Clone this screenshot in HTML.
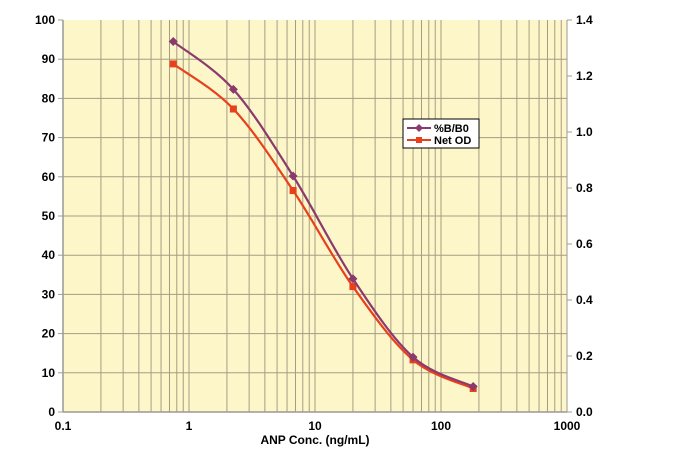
<!DOCTYPE html>
<html><head><meta charset="utf-8"><style>
html,body{margin:0;padding:0;background:#fff;}
svg{display:block;font-family:"Liberation Sans",sans-serif;font-weight:bold;}
</style></head><body>
<svg id="s" width="684" height="468" viewBox="0 0 684 468" xmlns="http://www.w3.org/2000/svg">
<rect x="63" y="20" width="504" height="392" fill="#fdf6c9"/>
<g id="grid" stroke="#a59d83" stroke-width="1"></g>
<g id="lab" font-size="12" fill="#000"></g>
<line x1="63" y1="20" x2="63" y2="412" stroke="#999" stroke-width="1.5"/>
<line x1="567" y1="20" x2="567" y2="412" stroke="#999" stroke-width="1"/>
<line x1="63" y1="412" x2="567" y2="412" stroke="#999" stroke-width="1.5"/>
<g id="ser"></g>
<rect x="403" y="119" width="76" height="29" fill="#fff" stroke="#000" stroke-width="1"/>
<line x1="407" y1="128" x2="431" y2="128" stroke="#8b3a6e" stroke-width="2"/>
<path d="M419 124 L423 128 L419 132 L415 128Z" fill="#8b3a6e"/>
<line x1="407" y1="140" x2="431" y2="140" stroke="#e8401c" stroke-width="2"/>
<rect x="416" y="137" width="6" height="6" fill="#e8401c"/>
<text x="434" y="132" font-size="11">%B/B0</text>
<text x="434" y="144" font-size="11">Net OD</text>
<text x="315" y="444" font-size="12" text-anchor="middle">ANP Conc.  (ng/mL)</text>
</svg>
<script>
var NS="http://www.w3.org/2000/svg";
function el(p,t,a,txt){var e=document.createElementNS(NS,t);for(var k in a)e.setAttribute(k,a[k]);if(txt!=null)e.textContent=txt;document.getElementById(p).appendChild(e);}
function X(v){return 189+126*Math.log10(v);}
function Y(v){return 412-3.92*v;}
for(var d=-1;d<3;d++)for(var m=1;m<=9;m++){var x=X(m*Math.pow(10,d));if(x>63.5&&x<566.5)el("grid","line",{x1:x,y1:20,x2:x,y2:412});}
for(var i=0;i<=10;i++){var y=Y(i*10);if(i<10)el("grid","line",{x1:63,y1:y,x2:567,y2:y});
 el("grid","line",{x1:58,y1:y,x2:63,y2:y});
 el("lab","text",{x:55,y:y+4,"text-anchor":"end"},String(i*10));}
for(var i=0;i<=7;i++){var y=412-i*56;el("grid","line",{x1:567,y1:y,x2:572,y2:y});
 el("lab","text",{x:576,y:y+4},(i*0.2).toFixed(1));}
["0.1","1","10","100","1000"].forEach(function(t,i){el("lab","text",{x:63+126*i,y:430,"text-anchor":"middle"},t);});
function path(pts){var d="M"+pts[0][0]+" "+pts[0][1];for(var i=0;i<pts.length-1;i++){var p0=pts[i-1]||pts[i],p1=pts[i],p2=pts[i+1],p3=pts[i+2]||p2;
 d+=" C"+(p1[0]+(p2[0]-p0[0])/6)+" "+(p1[1]+(p2[1]-p0[1])/6)+" "+(p2[0]-(p3[0]-p1[0])/6)+" "+(p2[1]-(p3[1]-p1[1])/6)+" "+p2[0]+" "+p2[1];}return d;}
var xs=[0.75,2.25,6.7,20,60,180];
var a=[94.5,82.3,60.2,34,14,6.5], b=[88.8,77.3,56.5,32,13.3,6];
function draw(v,c,mk){var pts=xs.map(function(x,i){return [X(x),Y(v[i])];});
 el("ser","path",{d:path(pts),fill:"none",stroke:c,"stroke-width":2.2});
 pts.forEach(function(p){if(mk)el("ser","path",{d:"M"+p[0]+" "+(p[1]-4.5)+" L"+(p[0]+4.5)+" "+p[1]+" L"+p[0]+" "+(p[1]+4.5)+" L"+(p[0]-4.5)+" "+p[1]+"Z",fill:c});
 else el("ser","rect",{x:p[0]-3.5,y:p[1]-3.5,width:7,height:7,fill:c});});}
draw(b,"#e8401c",false);
draw(a,"#8b3a6e",true);
</script>
</body></html>
